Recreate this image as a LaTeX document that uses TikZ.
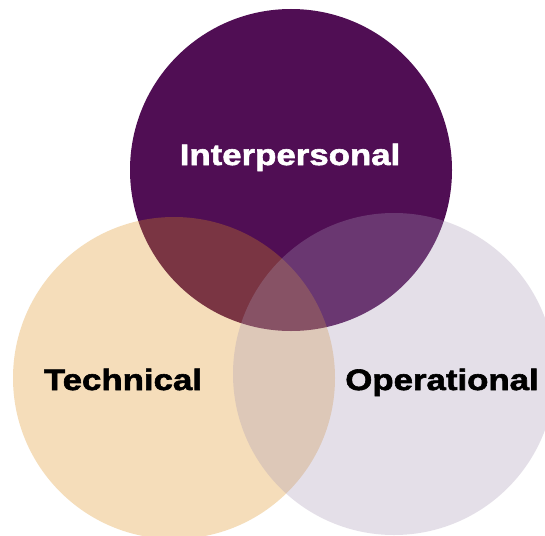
\documentclass[tikz,border=0pt]{standalone}
\usepackage{fontspec}
\newfontfamily\labelfont[FakeStretch=1.18,FakeBold=2]{Liberation Sans Bold}
\definecolor{topPurple}{RGB}{80,14,84}
\definecolor{techGold}{RGB}{222,145,28}
\definecolor{opsGrey}{RGB}{168,152,182}
\tikzset{
  venn/.style={circle, minimum size=322pt, inner sep=0pt, draw=none},
  vlabel/.style={font=\labelfont\fontsize{29.5}{31}\selectfont, anchor=base, inner sep=0pt}
}
\begin{document}
\begin{tikzpicture}[x=1pt,y=-1pt]
\useasboundingbox (0,0) rectangle (545,535);
\fill[white] (0,0) rectangle (545,535);
\clip (0,0) rectangle (545,535);
\node[venn, fill=topPurple] (inter) at (291,170) {};
\node[venn, fill=techGold, fill opacity=0.3] (tech) at (174,378) {};
\node[venn, fill=opsGrey, fill opacity=0.3] (ops) at (394,374) {};
\node[vlabel, text=white] (lint) at (290,165) {Interpersonal};
\node[vlabel, text=black] (ltech) at (123,390) {Technical};
\node[vlabel, text=black] (lops) at (442,390) {Operational};
\end{tikzpicture}
\end{document}
